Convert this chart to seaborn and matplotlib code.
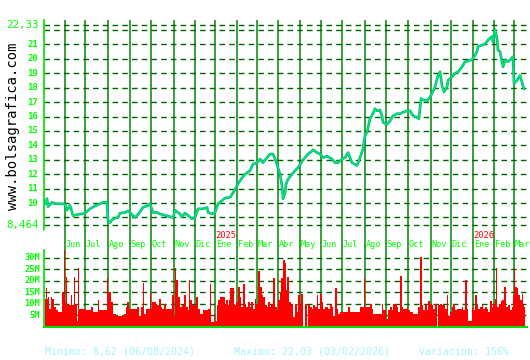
import numpy as np
import pandas as pd
import matplotlib
matplotlib.use("Agg")
import matplotlib.pyplot as plt
import seaborn as sns

# ---------------- data ----------------
start_date = "2024-05-06"
end_date = "2026-03-13"
holidays = ["2024-12-25", "2024-12-26", "2025-01-01", "2025-05-01",
            "2025-12-25", "2026-01-01"]
month_names = {1: "Ene", 2: "Feb", 3: "Mar", 4: "Abr", 5: "May", 6: "Jun",
               7: "Jul", 8: "Ago", 9: "Sep", 10: "Oct", 11: "Nov", 12: "Dic"}

# price: trading session number (since start_date) and close value
price_session = [0, 2, 3, 7, 10, 15, 18, 20, 22, 25, 28, 32, 37, 40, 45, 50, 55, 58,
                 62, 63, 65, 68, 73, 75, 80, 83, 87, 90, 93, 98, 102, 105, 108, 112,
                 115, 120, 125, 128, 130, 135, 137, 140, 143, 147, 150, 153, 158, 162,
                 163, 167, 170, 173, 175, 180, 185, 188, 192, 195, 200, 205, 208, 212,
                 215, 218, 222, 225, 228, 231, 233, 235, 237, 238, 240, 241, 243, 247,
                 250, 253, 257, 260, 263, 267, 268, 272, 275, 278, 282, 287, 290, 293,
                 297, 300, 303, 307, 312, 315, 318, 320, 322, 325, 328, 330, 332, 335,
                 337, 338, 342, 345, 348, 352, 355, 358, 362, 365, 368, 372, 374, 376,
                 378, 382, 385, 387, 390, 393, 395, 397, 399, 402, 403, 407, 410, 413,
                 417, 420, 423, 427, 430, 432, 433, 437, 440, 443, 447, 448, 450, 452,
                 453, 455, 458, 460, 463, 466, 468, 469, 472, 475, 478, 479]
price_value = [9.95, 10.3, 9.75, 10.05, 9.95, 9.95, 9.95, 9.9, 9.5, 9.85, 9.13, 9.2,
               9.25, 9.3, 9.6, 9.8, 9.95, 10.05, 10.05, 8.8, 8.65, 8.9, 9.0, 9.3, 9.35,
               9.45, 9.2, 9.0, 9.2, 9.7, 9.8, 9.95, 9.35, 9.35, 9.25, 9.15, 9.05, 9.0,
               9.5, 9.25, 9.05, 9.3, 9.15, 8.9, 9.0, 9.6, 9.6, 9.7, 9.35, 9.25, 9.35,
               9.95, 10.05, 10.35, 10.4, 10.7, 11.2, 11.55, 12.0, 12.25, 12.7, 12.8,
               13.05, 12.8, 13.15, 13.4, 13.4, 12.9, 12.45, 12.0, 11.2, 10.3, 10.7,
               11.3, 11.65, 12.0, 12.25, 12.45, 12.9, 13.15, 13.4, 13.6, 13.7, 13.5,
               13.4, 13.15, 13.25, 13.05, 12.8, 12.8, 13.05, 13.15, 13.5, 12.8, 12.6,
               13.15, 13.75, 14.7, 14.9, 15.85, 16.2, 16.55, 16.4, 16.45, 16.05, 15.6,
               15.45, 15.7, 16.05, 16.2, 16.2, 16.3, 16.4, 16.4, 16.05, 15.95, 15.85,
               17.25, 17.15, 17.1, 17.35, 17.6, 18.05, 18.85, 19.1, 18.15, 17.7, 18.05,
               18.5, 18.75, 19.0, 19.1, 19.45, 19.8, 19.85, 19.95, 20.25, 20.5, 20.85,
               20.95, 21.05, 21.3, 21.55, 21.2, 22.03, 21.4, 20.6, 20.5, 19.45, 19.9,
               19.8, 20.0, 20.15, 18.3, 18.5, 18.85, 18.15, 17.9]

# volume (millions): trading session number and value
vol_session = [0, 1, 2, 3, 4, 6, 7, 9, 11, 13, 16, 17, 19, 20, 21, 22, 26, 27, 29,
               30, 32, 33, 34, 38, 41, 45, 46, 48, 53, 54, 58, 62, 63, 66, 68, 71, 76,
               79, 81, 82, 84, 89, 92, 94, 96, 98, 99, 101, 105, 106, 107, 111, 114,
               116, 117, 119, 121, 127, 129, 130, 131, 133, 135, 137, 139, 141, 143,
               144, 145, 147, 151, 153, 155, 158, 163, 165, 166, 169, 170, 172, 173,
               175, 180, 181, 183, 184, 185, 189, 191, 193, 195, 196, 198, 200, 201,
               203, 205, 206, 208, 210, 211, 213, 215, 216, 217, 218, 220, 222, 223,
               225, 226, 228, 230, 232, 233, 235, 236, 238, 240, 241, 242, 244, 246,
               248, 250, 252, 253, 255, 256, 258, 260, 262, 263, 265, 267, 268, 270,
               272, 273, 275, 277, 278, 280, 282, 283, 285, 287, 288, 290, 292, 293,
               295, 303, 305, 315, 319, 320, 325, 327, 328, 337, 338, 341, 343, 345,
               347, 348, 352, 353, 355, 357, 358, 362, 363, 365, 368, 373, 375, 377,
               378, 380, 382, 383, 385, 387, 388, 390, 392, 393, 395, 397, 400, 402,
               403, 405, 407, 408, 410, 412, 417, 418, 420, 422, 423, 427, 428, 430,
               432, 433, 435, 437, 438, 440, 442, 443, 445, 447, 448, 450, 451, 452,
               454, 456, 457, 459, 461, 463, 465, 467, 468, 469, 470, 472, 473, 475,
               477, 478, 479]
vol_value = [12.2, 16.6, 12.2, 13.0, 7.8, 13.0, 12.0, 8.5, 7.0, 6.3, 6.3, 15.0, 33.5,
             10.7, 21.8, 9.3, 13.7, 9.3, 21.8, 10.0, 2.6, 25.4, 7.8, 7.8, 7.0, 7.0,
             8.5, 6.3, 11.5, 7.0, 7.0, 21.0, 15.1, 10.7, 5.6, 4.6, 4.6, 5.6, 8.5, 10.7,
             7.8, 7.8, 8.5, 4.8, 8.5, 18.8, 5.6, 7.8, 15.1, 7.8, 10.7, 9.3, 12.2, 8.5,
             7.8, 10.0, 7.8, 13.7, 4.0, 25.4, 20.3, 13.0, 8.5, 9.3, 13.7, 8.5, 7.0,
             20.3, 11.5, 9.3, 13.0, 7.8, 5.6, 7.0, 7.8, 18.4, 2.0, 5.6, 2.6, 9.3, 11.5,
             13.0, 10.0, 11.5, 9.3, 11.5, 16.6, 9.3, 10.7, 17.4, 13.0, 8.5, 18.4, 10.0,
             8.5, 10.7, 8.5, 10.7, 7.8, 12.2, 10.0, 24.3, 17.4, 17.4, 13.7, 13.0, 9.3,
             8.5, 10.7, 8.5, 10.0, 21.0, 8.5, 7.0, 11.5, 15.1, 21.0, 29.0, 27.6, 15.9,
             21.8, 10.7, 9.3, 4.0, 10.0, 6.3, 13.7, 9.3, 14.4, 0.4, 10.0, 0.4, 9.3,
             8.5, 7.8, 9.3, 8.5, 13.7, 7.8, 14.4, 10.7, 7.8, 8.5, 8.5, 7.8, 10.0, 8.5,
             4.8, 16.6, 7.8, 5.6, 6.3, 8.5, 6.3, 8.5, 21.3, 8.5, 10.0, 7.8, 5.6, 10.0,
             7.0, 3.4, 7.0, 8.5, 7.0, 10.0, 8.5, 6.3, 22.0, 8.5, 7.8, 8.5, 7.0, 6.3,
             5.6, 8.5, 30.3, 9.3, 7.0, 9.3, 7.0, 11.0, 10.0, 9.3, 7.8, 10.0, 0.4, 9.3,
             10.0, 9.3, 7.8, 13.7, 4.8, 6.3, 8.5, 10.0, 7.0, 7.8, 8.5, 7.0, 20.3, 7.8,
             2.6, 8.5, 7.0, 13.7, 9.3, 7.8, 8.5, 9.3, 7.8, 8.5, 7.8, 6.3, 11.0, 8.5,
             10.0, 12.2, 25.4, 8.5, 10.0, 11.0, 11.5, 17.4, 8.5, 9.3, 7.0, 8.5, 13.7,
             25.4, 17.4, 16.6, 13.7, 11.5, 14.4, 9.3, 8.5]

price_ticks = list(range(9, 23))
price_tick_labels = [str(v) for v in range(10, 22)]
price_min_label, price_max_label = 8.464, 22.33
vol_ticks = [5, 10, 15, 20, 25, 30]
vol_tick_labels = ["5M", "10M", "15M", "20M", "25M", "30M"]
footer = ["Minimo: 8,62 (06/08/2024)", "Maximo: 22,03 (03/02/2026)", "Variación: 156%"]
site = "www.bolsagrafica.com"

# ---------------- calendar ----------------
days = pd.bdate_range(start_date, end_date, freq="C", holidays=holidays)
dfd = pd.DataFrame({"date": days, "session": np.arange(len(days))})
first = dfd.groupby([dfd.date.dt.year, dfd.date.dt.month]).first().reset_index(drop=True)
first = first[first.date > pd.Timestamp("2024-05-31")]

# ---------------- style ----------------
sns.set_theme(style="white")
plt.rcParams["font.family"] = ["DejaVu Sans Mono", "DejaVu Sans"]

GREEN_TXT = "#00FF00"
VLINE = "#008800"
DASH = "#006400"
SPINE = "#00DD00"

fig = plt.figure(figsize=(5.3, 3.6), dpi=100)
W, H = 530, 360
xl, xr = 44, 527
ax = fig.add_axes([xl / W, 1 - 230 / H, (xr - xl) / W, 210 / H])
axv = fig.add_axes([xl / W, 1 - 326.5 / H, (xr - xl) / W, 96.5 / H])

xlim = (-1, 482)
for a in (ax, axv):
    a.set_xlim(*xlim)
    a.set_facecolor("white")
    for s in a.spines.values():
        s.set_visible(False)
    a.set_xticks([])
    a.set_yticks([])
    for s in first.session:
        a.axvline(s, color=VLINE, lw=1.1, zorder=1)

# ----- price panel -----
px_per_unit = 14.45
ax.set_ylim(price_min_label - 4.8 / px_per_unit, price_max_label + 5.3 / px_per_unit)
for v in price_ticks + [price_min_label, price_max_label]:
    ax.axhline(v, color=DASH, lw=1.0, ls=(0, (4, 3)), zorder=1)
ax.spines["left"].set_visible(True)
ax.spines["left"].set_color(SPINE)
ax.spines["left"].set_linewidth(1.2)

dfp = pd.DataFrame({"session": price_session, "price": price_value})
sns.lineplot(data=dfp, x="session", y="price", ax=ax, color="#00A8B0", lw=1.9, zorder=3)
sns.lineplot(data=dfp, x="session", y="price", ax=ax, color="#00FF30", lw=0.8, zorder=4)
ax.set_xlabel("")
ax.set_ylabel("")
ax.set_xlim(*xlim)

for lab in price_tick_labels:
    ax.text(-0.012, float(lab), lab, transform=ax.get_yaxis_transform(),
            ha="right", va="center", fontsize=6.5, color=GREEN_TXT, fontweight="bold")
for v, lab in [(price_max_label, "22,33"), (price_min_label, "8,464")]:
    ax.text(-0.010, v, lab, transform=ax.get_yaxis_transform(),
            ha="right", va="center", fontsize=7.8, color=GREEN_TXT)

# ----- volume panel -----
vpx = 2.29
axv.set_ylim(0, 96.5 / vpx)
for v in vol_ticks:
    axv.axhline(v, color=DASH, lw=1.0, ls=(0, (4, 3)), zorder=1)
vs = np.array(vol_session, dtype=float)
widths = np.diff(np.append(vs, vs[-1] + 1))
axv.bar(vs - 0.5, vol_value, width=widths, align="edge", color="#FF0000",
        edgecolor="none", zorder=2)
axv.spines["left"].set_visible(True)
axv.spines["left"].set_color(SPINE)
axv.spines["left"].set_linewidth(1.2)
axv.spines["left"].set_bounds(0, 76.3 / vpx)
axv.spines["bottom"].set_visible(True)
axv.spines["bottom"].set_color(SPINE)
axv.spines["bottom"].set_linewidth(1.5)
for v, lab in zip(vol_ticks, vol_tick_labels):
    axv.text(-0.008, v, lab, transform=axv.get_yaxis_transform(),
             ha="right", va="center", fontsize=6.3, color=GREEN_TXT, fontweight="bold")

# month / year labels
for d, s in zip(first.date, first.session):
    axv.text(s + 0.8, 82.3 / vpx, month_names[d.month], ha="left", va="center",
             fontsize=6.1, color=GREEN_TXT, zorder=5)
    if d.month == 1:
        axv.text(s + 0.5, 90.8 / vpx, str(d.year), ha="left", va="center",
                 fontsize=6.3, color="#FF0000", zorder=5)

# site label
fig.text(13 / W, 1 - 126 / H, site, rotation=90, ha="center", va="center",
         fontsize=10, color="black")

# footer
for xpos, txt in zip([45, 234, 419], footer):
    fig.text(xpos / W, 1 - 352 / H, txt, ha="left", va="center", fontsize=7.2,
             color="#A8F4FC")

fig.savefig("out.png", dpi=100, facecolor="white")
